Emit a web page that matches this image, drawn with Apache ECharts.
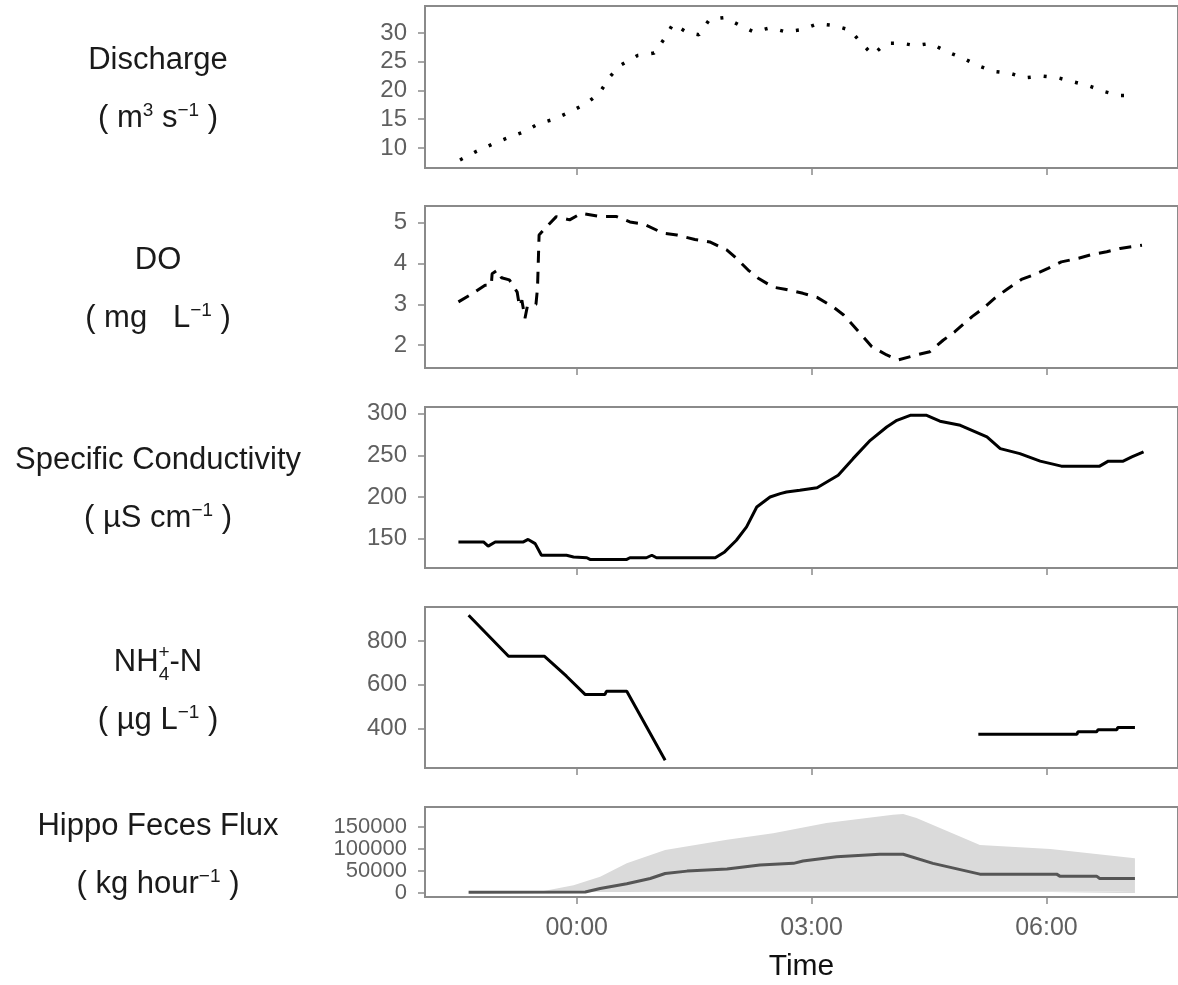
<!DOCTYPE html>
<html>
<head>
<meta charset="utf-8">
<script src="https://cdn.jsdelivr.net/npm/echarts@6/dist/echarts.min.js"></script>
<style>
  html, body { margin: 0; padding: 0; background: #fff; }
  #chart { width: 1178px; height: 985px; }
</style>
</head>
<body>
<div id="chart"></div>
<script>
// time is in hours relative to midnight (negative = previous evening)
const timeTicks = [0, 3, 6]

const dischargeTime = [-1.49, -1.28, -1.07, -0.87, -0.67, -0.49, -0.29, -0.08, 0.13, 0.29, 0.42, 0.55, 0.78, 0.99, 1.12, 1.23, 1.41, 1.56, 1.70, 1.89, 2.09, 2.26, 2.47, 2.67, 2.88, 3.08, 3.29, 3.49, 3.64, 3.78, 3.95, 4.16, 4.33, 4.52, 4.72, 4.92, 5.13, 5.33, 5.53, 5.73, 5.95, 6.15, 6.34, 6.54, 6.74, 6.94, 7.15]
const dischargeValue = [7.9, 9.4, 10.7, 11.8, 12.8, 14.2, 15.0, 16.3, 17.8, 19.5, 22.3, 24.3, 26.1, 26.5, 29.0, 31.6, 30.1, 29.7, 32.4, 32.7, 31.3, 30.2, 30.9, 30.2, 30.6, 31.6, 31.3, 30.5, 28.2, 26.2, 28.2, 28.2, 27.8, 28.2, 26.8, 25.7, 24.3, 23.3, 23.0, 22.2, 22.5, 22.2, 21.5, 20.8, 19.8, 19.1, 19.1]

const doTime = [-1.51, -1.36, -1.17, -1.09, -1.08, -1.01, -0.96, -0.86, -0.76, -0.73, -0.70, -0.66, -0.63, -0.52, -0.50, -0.48, -0.41, -0.26, -0.09, 0.06, 0.30, 0.51, 0.68, 0.85, 1.11, 1.28, 1.51, 1.70, 1.92, 2.04, 2.19, 2.32, 2.51, 2.66, 2.89, 3.07, 3.28, 3.41, 3.62, 3.77, 3.96, 4.11, 4.34, 4.51, 4.68, 4.83, 5.05, 5.19, 5.34, 5.51, 5.68, 5.83, 6.02, 6.19, 6.41, 6.56, 6.77, 6.94, 7.22]
const doValue = [3.06, 3.23, 3.47, 3.47, 3.75, 3.84, 3.65, 3.60, 3.30, 2.95, 3.10, 2.66, 2.95, 3.00, 3.40, 4.70, 4.85, 5.15, 5.07, 5.23, 5.15, 5.15, 5.02, 4.97, 4.74, 4.70, 4.59, 4.53, 4.33, 4.13, 3.84, 3.64, 3.42, 3.37, 3.27, 3.17, 2.93, 2.74, 2.29, 1.96, 1.76, 1.64, 1.76, 1.84, 2.12, 2.33, 2.70, 2.90, 3.15, 3.39, 3.61, 3.72, 3.88, 4.04, 4.13, 4.21, 4.29, 4.37, 4.45]

const condTime = [-1.51, -1.19, -1.13, -1.04, -0.68, -0.62, -0.53, -0.45, -0.13, -0.04, 0.13, 0.17, 0.64, 0.68, 0.89, 0.96, 1.02, 1.77, 1.89, 2.04, 2.17, 2.30, 2.47, 2.60, 2.68, 2.85, 3.07, 3.34, 3.53, 3.75, 3.96, 4.09, 4.26, 4.47, 4.64, 4.90, 5.24, 5.41, 5.66, 5.92, 6.19, 6.68, 6.79, 6.98, 7.09, 7.24]
const condValue = [146, 146, 141, 146, 146, 149, 144, 130, 130, 128, 127, 125, 125, 127, 127, 130, 127, 127, 134, 148, 164, 188, 200, 204, 206, 208, 211, 226, 246, 268, 284, 292, 298, 298, 291, 286, 272, 258, 252, 243, 237, 237, 243, 243, 248, 254]

// null marks the gap between the two sampling runs
const nh4Time = [-1.38, -0.87, -0.41, -0.13, 0.11, 0.36, 0.38, 0.64, 1.13, 3.0, 5.13, 6.39, 6.40, 6.64, 6.66, 6.90, 6.91, 7.13]
const nh4Value = [917, 730, 730, 639, 555, 555, 570, 570, 255, null, 374, 374, 385, 385, 395, 395, 405, 405]

const fluxTime = [-1.38, 0.11, 0.30, 0.64, 0.94, 1.13, 1.41, 1.92, 2.34, 2.77, 2.89, 3.32, 3.87, 4.17, 4.55, 5.15, 6.13, 6.17, 6.64, 6.68, 7.13]
const fluxValue = [1500, 2300, 10000, 21000, 32700, 44000, 49300, 53900, 63000, 66800, 72000, 81800, 87300, 87300, 66800, 42500, 42500, 38000, 38000, 32700, 32700]

const bandTime = [-1.38, -0.47, -0.04, 0.30, 0.64, 1.13, 1.92, 2.51, 3.19, 4.04, 4.17, 4.34, 5.15, 6.05, 7.13]
const bandLow = [1000, 1000, 1500, 2000, 2000, 2500, 3000, 3000, 3000, 3000, 3000, 3000, 2500, 2500, 2500]
const bandHigh = [1500, 2500, 17500, 36400, 66800, 97000, 120000, 135000, 157700, 176600, 178000, 169000, 108400, 99300, 78200]

const dischargeTicks = [10, 15, 20, 25, 30]
const doTicks = [2, 3, 4, 5]
const condTicks = [150, 200, 250, 300]
const nh4Ticks = [400, 600, 800]
const fluxTicks = [0, 50000, 100000, 150000]

// {slot} leaves room for the stacked 4 / + of NH4+, drawn separately below
const panelNames = ['Discharge', 'DO', 'Specific Conductivity', 'NH{slot| }-N', 'Hippo Feces Flux']
const panelUnits = ['( m{sup|3} s{sup|\u22121} )', '( mg   L{sup|\u22121} )', '( \u00b5S cm{sup|\u22121} )', '( \u00b5g L{sup|\u22121} )', '( kg hour{sup|\u22121} )']

const FONT = 'Liberation Sans, Arial, sans-serif'
const xMin = -1.937
const xMax = 7.68
const labelX = 158
const labelSize = 31
const smallSize = 19
const slotWidth = 11

const grids = [
  { top: 6, height: 162 },
  { top: 206, height: 162 },
  { top: 407, height: 161 },
  { top: 607, height: 161 },
  { top: 807, height: 90 }
]
const yRanges = [[6.5, 34.7], [1.44, 5.41], [114.7, 308], [220, 955], [-9100, 194000]]
const yTicks = [dischargeTicks, doTicks, condTicks, nh4Ticks, fluxTicks]
const nameY = [[60, 118], [260, 318], [460, 518], [662, 720], [826, 884]]

function zip(a, b) {
  return a.map((t, i) => [t, b[i]])
}

function hhmm(h) {
  const hr = ((Math.round(h) % 24) + 24) % 24
  return (hr < 10 ? '0' : '') + hr + ':00'
}

const measureCtx = document.createElement('canvas').getContext('2d')
function textWidth(s, size) {
  measureCtx.font = size + 'px ' + FONT
  return measureCtx.measureText(s).width
}

const chart = echarts.init(document.getElementById('chart'))

const xAxis = grids.map((g, i) => ({
  type: 'value',
  gridIndex: i,
  min: xMin,
  max: xMax,
  axisLine: { show: false, onZero: false },
  splitLine: { show: false },
  axisTick: { show: true, customValues: timeTicks, length: 7, lineStyle: { color: '#8a8a8a', width: 1.5 } },
  axisLabel: {
    show: i === grids.length - 1,
    customValues: timeTicks,
    formatter: hhmm,
    fontFamily: FONT,
    fontSize: 25,
    color: '#5f5f5f',
    margin: 19
  },
  name: i === grids.length - 1 ? 'Time' : '',
  nameLocation: 'middle',
  nameGap: 55,
  nameTextStyle: { fontFamily: FONT, fontSize: 30, color: '#111' }
}))

const yAxis = grids.map((g, i) => ({
  type: 'value',
  gridIndex: i,
  min: yRanges[i][0],
  max: yRanges[i][1],
  axisLine: { show: false, onZero: false },
  splitLine: { show: false },
  axisTick: { show: true, customValues: yTicks[i], length: 7, lineStyle: { color: '#8a8a8a', width: 1.5 } },
  axisLabel: {
    customValues: yTicks[i],
    formatter: v => String(v),
    interval: 0,
    hideOverlap: false,
    showMinLabel: true,
    showMaxLabel: true,
    fontFamily: FONT,
    fontSize: i === 4 ? 22 : 24,
    lineHeight: i === 4 ? 16 : 24,
    color: '#5f5f5f',
    margin: 18
  }
}))

const baseLine = { showSymbol: false, symbol: 'none', silent: true }

const series = [
  Object.assign({ type: 'line', xAxisIndex: 0, yAxisIndex: 0, data: zip(dischargeTime, dischargeValue),
    lineStyle: { color: '#000', width: 3.5, type: [3, 13] } }, baseLine),
  Object.assign({ type: 'line', xAxisIndex: 1, yAxisIndex: 1, data: zip(doTime, doValue),
    lineStyle: { color: '#000', width: 3, type: [12, 9] } }, baseLine),
  Object.assign({ type: 'line', xAxisIndex: 2, yAxisIndex: 2, data: zip(condTime, condValue),
    lineStyle: { color: '#000', width: 3 } }, baseLine),
  Object.assign({ type: 'line', xAxisIndex: 3, yAxisIndex: 3, data: zip(nh4Time, nh4Value), connectNulls: false,
    lineStyle: { color: '#000', width: 3 } }, baseLine),
  // ribbon: grey up to the high bound, white back down to the low bound
  Object.assign({ type: 'line', xAxisIndex: 4, yAxisIndex: 4, data: zip(bandTime, bandHigh),
    lineStyle: { opacity: 0 }, areaStyle: { color: '#dadada', opacity: 1, origin: 0 } }, baseLine),
  Object.assign({ type: 'line', xAxisIndex: 4, yAxisIndex: 4, data: zip(bandTime, bandLow),
    lineStyle: { opacity: 0 }, areaStyle: { color: '#fff', opacity: 1, origin: 0 } }, baseLine),
  Object.assign({ type: 'line', xAxisIndex: 4, yAxisIndex: 4, data: zip(fluxTime, fluxValue),
    lineStyle: { color: '#555', width: 3 } }, baseLine)
]

const richStyles = {
  sup: { fontFamily: FONT, fontSize: smallSize, verticalAlign: 'top', fill: '#1a1a1a', color: '#1a1a1a' },
  slot: { fontFamily: FONT, fontSize: smallSize, width: slotWidth }
}

function labelText(text, x, y, size) {
  return {
    type: 'text',
    x: x,
    y: y,
    style: {
      text: text,
      fontFamily: FONT,
      fontSize: size,
      lineHeight: 34,
      fill: '#1a1a1a',
      textAlign: 'center',
      align: 'center',
      textVerticalAlign: 'middle',
      verticalAlign: 'middle',
      rich: richStyles
    }
  }
}

const graphic = []
panelNames.forEach((n, i) => {
  graphic.push(labelText(n, labelX, nameY[i][0], labelSize))
  graphic.push(labelText(panelUnits[i], labelX, nameY[i][1], labelSize))
})

// stacked sub/superscript of NH4+
const wNH = textWidth('NH', labelSize)
const wN = textWidth('-N', labelSize)
const slotX = labelX - (wNH + slotWidth + wN) / 2 + wNH + slotWidth / 2
graphic.push(labelText('+', slotX, nameY[3][0] - 9, smallSize))
graphic.push(labelText('4', slotX, nameY[3][0] + 13, smallSize))

chart.setOption({
  animation: false,
  backgroundColor: '#fff',
  grid: grids.map(g => ({
    left: 425,
    right: -2,
    top: g.top,
    height: g.height,
    show: true,
    borderColor: '#8a8a8a',
    borderWidth: 2,
    backgroundColor: 'transparent'
  })),
  xAxis: xAxis,
  yAxis: yAxis,
  series: series,
  graphic: graphic
})
</script>
</body>
</html>
